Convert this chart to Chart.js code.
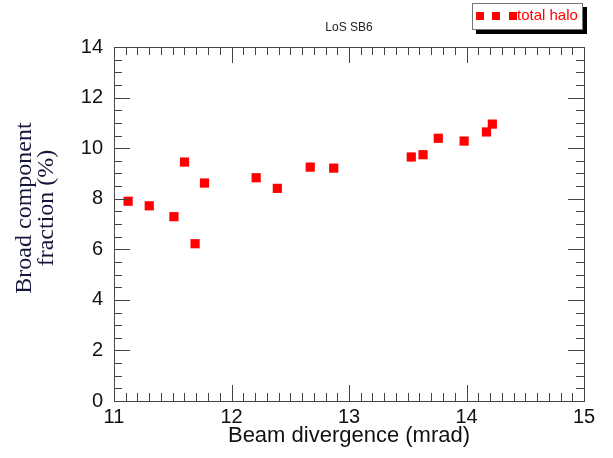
<!DOCTYPE html>
<html>
<head>
<meta charset="utf-8">
<script src="https://cdn.jsdelivr.net/npm/chart.js@4/dist/chart.umd.min.js"></script>
<style>
  html, body { margin: 0; padding: 0; background: #fff; }
  #wrap { width: 613px; height: 458px; }
</style>
</head>
<body>
<div id="wrap"><canvas id="c" width="613" height="458"></canvas></div>
<script>
// values
const divergence = [11.12, 11.30, 11.51, 11.60, 11.69, 11.77, 12.21, 12.39, 12.67, 12.87, 13.53, 13.63, 13.76, 13.98, 14.17, 14.22];
const haloFraction = [7.90, 7.72, 7.29, 9.45, 6.22, 8.62, 8.83, 8.41, 9.25, 9.21, 9.65, 9.74, 10.39, 10.28, 10.64, 10.95];
const seriesLabel = 'total halo';
const chartTitle = 'LoS SB6';
const xTitle = 'Beam divergence (mrad)';
const yTitle = ['Broad component', 'fraction (%)'];

const RED = '#ff0000';
const AXIS = '#444';

// frame with inward ticks on all four sides, titles and legend box
const framePlugin = {
  id: 'frame',
  afterDraw(chart) {
    const ctx = chart.ctx;
    const { left, right, top, bottom } = chart.chartArea;
    const xs = chart.scales.x, ys = chart.scales.y;
    ctx.save();
    ctx.strokeStyle = AXIS;
    ctx.lineWidth = 1;
    ctx.strokeRect(Math.round(left) + 0.5, Math.round(top) + 0.5, Math.round(right - left), Math.round(bottom - top));
    ctx.beginPath();
    for (let i = 0; i <= 40; i++) {
      const v = 11 + i * 0.1;
      const px = Math.round(xs.getPixelForValue(v)) + 0.5;
      const len = i % 10 === 0 ? 16 : 8;
      ctx.moveTo(px, bottom); ctx.lineTo(px, bottom - len);
      ctx.moveTo(px, top); ctx.lineTo(px, top + len);
    }
    for (let i = 0; i <= 28; i++) {
      const v = i * 0.5;
      const py = Math.round(ys.getPixelForValue(v)) + 0.5;
      const len = i % 4 === 0 ? 16 : 8;
      ctx.moveTo(left, py); ctx.lineTo(left + len, py);
      ctx.moveTo(right, py); ctx.lineTo(right - len, py);
    }
    ctx.stroke();

    // title
    ctx.fillStyle = '#222';
    ctx.font = '12px "Liberation Sans", Arial, sans-serif';
    ctx.textAlign = 'center';
    ctx.textBaseline = 'middle';
    ctx.fillText(chartTitle, (left + right) / 2, 28);

    // y title (serif, two lines, rotated)
    ctx.save();
    ctx.translate(0, 208);
    ctx.rotate(-Math.PI / 2);
    ctx.fillStyle = '#16163c';
    ctx.font = '24px "Liberation Serif", "Times New Roman", serif';
    ctx.textAlign = 'center';
    ctx.textBaseline = 'alphabetic';
    ctx.fillText(yTitle[0], 0, 31);
    ctx.fillText(yTitle[1], 0, 53);
    ctx.restore();

    // legend box with shadow
    const bx = 472, by = 3, bw = 110, bh = 26;
    ctx.fillStyle = '#000000';
    ctx.fillRect(bx + 4, by + bh, bw, 5);
    ctx.fillRect(bx + bw, by + 4, 5, bh + 1);
    ctx.fillStyle = '#ffffff';
    ctx.fillRect(bx, by, bw, bh);
    ctx.strokeStyle = '#777';
    ctx.strokeRect(bx + 0.5, by + 0.5, bw, bh);
    ctx.fillStyle = RED;
    [476, 492, 509].forEach(sx => ctx.fillRect(sx, 12, 8, 8));
    ctx.font = '15px "Liberation Sans", Arial, sans-serif';
    ctx.textAlign = 'left';
    ctx.textBaseline = 'middle';
    ctx.fillText(chart.data.datasets[0].label, 517, 16);
    ctx.restore();
  }
};

new Chart(document.getElementById('c').getContext('2d'), {
  type: 'scatter',
  data: {
    datasets: [{
      label: seriesLabel,
      data: divergence.map((x, i) => ({ x: x, y: haloFraction[i] })),
      pointStyle: 'rect',
      pointRadius: 6.5,
      pointHoverRadius: 6.5,
      backgroundColor: RED,
      borderColor: RED,
      borderWidth: 0
    }]
  },
  options: {
    responsive: false,
    animation: false,
    layout: { padding: { top: 47, right: 29, left: 0, bottom: 0 } },
    plugins: {
      legend: { display: false },
      tooltip: { enabled: false }
    },
    scales: {
      x: {
        type: 'linear',
        min: 11, max: 15,
        afterFit: s => { s.height = 57; },
        grid: { display: false, drawTicks: false },
        border: { display: false },
        ticks: {
          stepSize: 1,
          padding: 4,
          color: '#111',
          font: { family: '"Liberation Sans", Arial, sans-serif', size: 20 }
        },
        title: {
          display: true,
          text: xTitle,
          color: '#111',
          padding: { top: 0, bottom: 9 },
          font: { family: '"Liberation Sans", Arial, sans-serif', size: 22 }
        }
      },
      y: {
        min: 0, max: 14,
        afterFit: s => { s.width = 114; },
        grid: { display: false, drawTicks: false },
        border: { display: false },
        ticks: {
          stepSize: 2,
          padding: 11,
          color: '#111',
          font: { family: '"Liberation Sans", Arial, sans-serif', size: 20 }
        },
        title: { display: false }
      }
    }
  },
  plugins: [framePlugin]
});
</script>
</body>
</html>
